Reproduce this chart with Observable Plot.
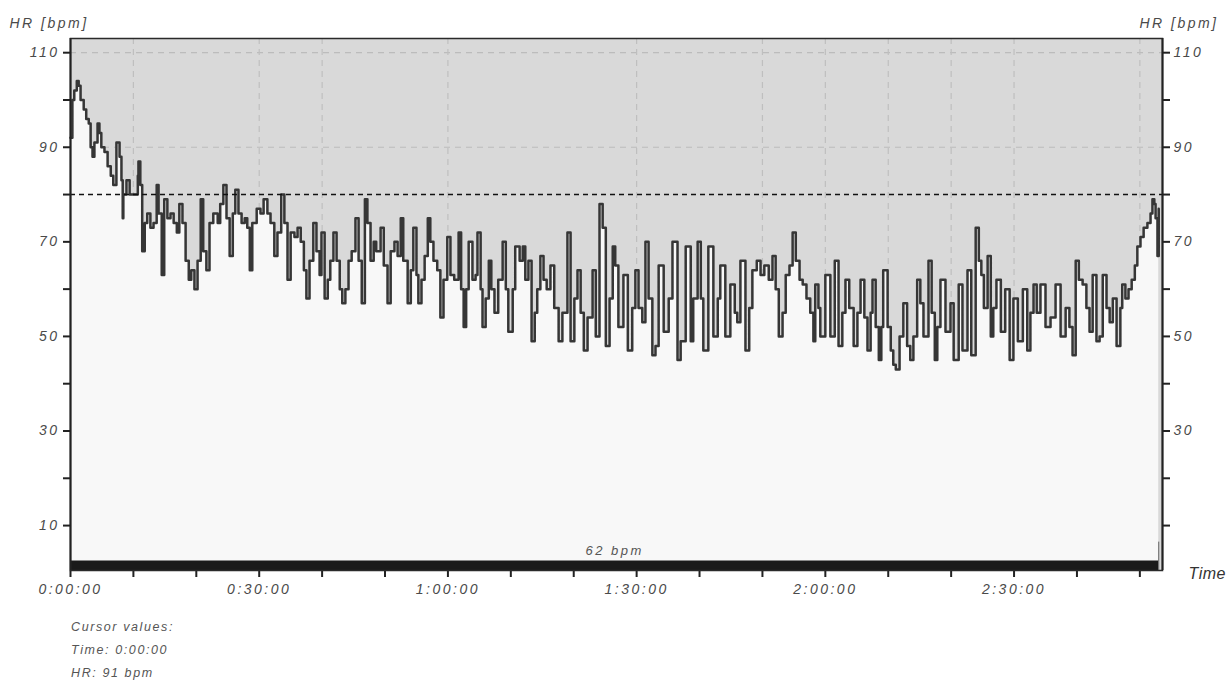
<!DOCTYPE html>
<html>
<head>
<meta charset="utf-8">
<script src="https://cdn.jsdelivr.net/npm/d3@7"></script>
<script src="https://cdn.jsdelivr.net/npm/@observablehq/plot@0.6"></script>
<style>
  html, body { margin: 0; padding: 0; background: #ffffff; }
  #chart { width: 1230px; }
  #cursor { padding: 11px 0 0 71px; font-family: "Liberation Sans", Arial, sans-serif; font-style: italic; font-size: 12.5px; letter-spacing: 1.6px; color: #555; line-height: 23px; }
</style>
</head>
<body>
<div id="chart"></div>
<div id="cursor">
  <div>Cursor values:</div>
  <div>Time: 0:00:00</div>
  <div>HR: 91 bpm</div>
</div>
<script>
// elapsed time in minutes
const minutes = [
  0.0,0.3,0.6,1.0,1.3,1.6,2.1,2.5,2.9,3.2,3.5,3.8,4.3,4.6,4.9,5.4,5.9,6.4,6.8,7.3,7.8,8.1,8.3,8.4,8.9,9.4,9.7,10.2,10.7,10.8,
  11.1,11.4,11.8,12.2,12.7,13.2,13.7,14.0,14.5,14.9,15.4,15.9,16.4,16.9,17.3,17.8,18.3,18.8,19.2,19.7,20.2,20.7,21.1,21.6,22.1,22.7,23.4,23.8,24.3,24.8,
  25.3,25.8,26.2,26.7,27.2,27.7,28.1,28.5,28.9,29.6,30.2,30.7,31.3,31.8,32.4,32.9,33.5,34.0,34.5,35.0,35.6,36.1,36.6,37.1,37.5,38.0,38.6,39.1,39.6,39.9,
  40.4,40.9,41.3,41.8,42.3,42.8,43.2,43.7,44.2,44.7,45.3,45.8,46.3,46.8,47.2,47.7,48.2,48.6,49.3,49.8,50.4,50.9,51.5,52.0,52.5,52.9,53.6,54.1,54.5,55.0,
  55.3,55.8,56.3,56.8,57.2,57.7,58.3,58.8,59.3,59.9,60.4,61.0,61.7,62.1,62.5,62.9,63.3,63.9,64.4,64.7,65.2,65.5,66.0,66.5,66.9,67.4,68.0,68.7,69.2,69.6,
  70.3,70.7,71.4,71.9,72.3,72.8,73.3,73.8,74.2,74.7,75.2,75.7,76.3,76.9,77.6,78.2,79.0,79.5,80.1,80.6,81.1,81.6,82.2,83.0,83.5,84.1,84.6,85.1,85.7,86.2,
  86.6,87.1,87.4,87.9,88.6,89.3,89.8,90.3,90.9,91.4,91.9,92.5,93.0,93.5,94.3,95.1,95.7,96.5,97.0,97.8,98.6,99.0,99.7,100.2,100.6,101.4,102.2,102.9,103.3,104.1,
  104.9,105.6,106.0,106.5,107.3,107.9,108.4,109.1,109.7,110.3,111.0,111.6,112.1,112.6,113.2,113.7,114.3,114.8,115.3,115.9,116.4,117.0,117.6,118.1,118.4,118.9,119.2,120.0,120.8,121.5,
  122.1,122.7,123.2,123.8,124.5,125.1,125.6,126.2,126.7,127.2,127.5,128.0,128.5,128.9,129.2,129.9,130.4,130.8,131.2,131.8,132.4,133.0,133.5,134.0,134.6,135.1,135.6,136.4,136.9,137.4,
  137.8,138.3,139.1,139.9,140.4,141.2,141.8,142.6,143.2,143.9,144.4,144.8,145.2,145.8,146.3,146.7,147.2,147.9,148.6,149.3,149.9,150.6,151.4,152.1,152.6,153.1,153.6,154.2,155.0,155.8,
  156.6,157.4,158.2,158.8,159.3,159.8,160.3,160.9,161.5,162.0,162.5,163.1,163.6,164.1,164.7,165.2,165.7,166.3,166.9,167.2,167.7,168.2,168.7,169.2,169.6,170.1,170.6,171.2,171.7,172.0,
  172.3,172.5,172.8,173.0
];
// heart rate in bpm
const hr = [
  92,100,102,104,103,100,98,96,95,90,88,91,95,93,90,89,86,84,82,91,88,83,75,80,83,80,80,80,84,87,
  82,68,74,76,73,74,82,76,63,79,75,76,74,72,78,74,66,62,64,60,66,79,68,64,74,76,74,78,82,75,
  67,76,81,76,74,75,73,64,74,77,76,79,76,74,67,72,80,74,62,72,71,73,70,64,58,66,74,68,63,72,
  58,62,66,72,66,60,57,60,66,68,75,66,57,79,74,66,70,68,73,65,57,68,70,67,75,66,57,64,73,63,
  57,62,67,75,70,66,64,54,62,71,63,62,72,60,52,60,70,62,63,72,60,52,58,66,60,55,62,70,60,51,
  60,69,66,69,62,66,49,55,60,67,62,60,65,56,49,55,72,49,58,64,55,47,54,64,50,78,73,48,58,69,
  65,52,52,63,47,56,64,56,53,70,58,46,48,65,51,58,70,45,49,69,49,58,70,58,47,69,50,58,65,50,
  61,55,53,66,47,56,64,66,63,65,62,67,60,50,55,63,65,72,66,62,61,58,55,49,61,56,50,63,50,66,
  48,55,62,56,48,55,62,54,47,55,62,52,45,52,64,52,47,44,43,50,57,48,45,50,62,57,50,66,55,45,
  52,62,51,57,45,61,47,64,46,73,66,63,56,67,50,56,62,51,60,45,58,49,60,47,55,61,55,61,52,54,
  61,50,56,52,46,66,62,61,56,51,63,49,50,63,56,53,58,48,56,61,58,60,62,65,69,71,73,74,76,79,
  78,75,67,77
];
const threshold = 80;            // dashed limit line, bpm
const barLabel = "62 bpm";       // label over the bottom bar
const yTicks = [10,20,30,40,50,60,70,80,90,100,110];
const yLabelsLeft = [10,30,50,70,90,110];
const yLabelsRight = [30,50,70,90,110];
const yGrid = [90,110];
const xTicks = [0,10,20,30,40,50,60,70,80,90,100,110,120,130,140,150,160,170];
const xLabelled = [0,30,60,90,120,150];
const xGrid = [10,30,40,60,90,110,120,130,140,150,170];
const tMax = 173.6;
const yMin = 0.5, yMax = 113;

const data = minutes.map((t, i) => ({t, hr: hr[i]}));
const tEnd = minutes[minutes.length - 1];
const fmtTime = m => `${Math.floor(m / 60)}:${String(m % 60).padStart(2, "0")}:00`;

const chart = Plot.plot({
  width: 1230,
  height: 605,
  marginLeft: 70,
  marginRight: 68,
  marginTop: 38,
  marginBottom: 35,
  x: {domain: [0, tMax]},
  y: {domain: [yMin, yMax]},
  style: {fontFamily: "'Liberation Sans', Arial, sans-serif", fontStyle: "italic", fontSize: "14px", letterSpacing: "2.5px", color: "#4a4a4a", background: "#ffffff", overflow: "visible"},
  marks: [
    Plot.frame({fill: "#d9d9d9"}),
    Plot.ruleY(yGrid, {stroke: "#bcbcbc", strokeDasharray: "6,5", strokeWidth: 1.2}),
    Plot.ruleX(xGrid, {stroke: "#bfbfbf", strokeDasharray: "6,5", strokeWidth: 1.2}),
    Plot.areaY(data, {x: "t", y1: () => yMin, y2: "hr", fill: "#f8f8f8", curve: "step-after"}),
    Plot.line(data, {x: "t", y: "hr", stroke: "#363636", strokeWidth: 2.5, curve: "step-after"}),
    Plot.ruleY([threshold], {stroke: "#111111", strokeDasharray: "5,4", strokeWidth: 1.6}),
    Plot.ruleY([yMin], {x1: 0, x2: tEnd, stroke: "#1a1a1a", strokeWidth: 10, dy: -5}),
    Plot.text([barLabel], {x: tEnd / 2, y: yMin, text: d => d, dy: -20, fontSize: 13, fill: "#555"}),
    Plot.ruleX([tEnd], {y1: yMin, y2: 6.5, stroke: "#666", strokeWidth: 1}),
    Plot.axisY({anchor: "left", ticks: yTicks, tickSize: 7, tickPadding: 4, strokeWidth: 2, stroke: "#222",
      tickFormat: d => yLabelsLeft.includes(d) ? d : "", label: null}),
    Plot.axisY({anchor: "right", ticks: yTicks, tickSize: 7, tickPadding: 4, strokeWidth: 2, stroke: "#222",
      tickFormat: d => yLabelsRight.includes(d) ? d : "", label: null}),
    Plot.axisX({ticks: xTicks, tickSize: 7, tickPadding: 7, strokeWidth: 2, stroke: "#222",
      tickFormat: d => xLabelled.includes(d) ? fmtTime(d) : "", label: null}),
    Plot.frame({stroke: "#2a2a2a", strokeWidth: 1.5}),
    Plot.ruleX([0, tMax], {stroke: "#222", strokeWidth: 2}),
    Plot.text(["HR [bpm]"], {text: d => d, frameAnchor: "top-left", dx: -61, dy: -20, textAnchor: "start", fontSize: 14}),
    Plot.text(["HR [bpm]"], {text: d => d, frameAnchor: "top-right", dx: 56, dy: -20, textAnchor: "end", fontSize: 14}),
    Plot.text(["Time"], {text: d => d, frameAnchor: "bottom-right", dx: 26, dy: 8, textAnchor: "start", fontSize: 16, fill: "#333"})
  ]
});
d3.select(chart).selectAll("text")
  .filter(function () { return this.textContent === "Time"; })
  .style("letter-spacing", "0.5px");
document.getElementById("chart").append(chart);
</script>
</body>
</html>
